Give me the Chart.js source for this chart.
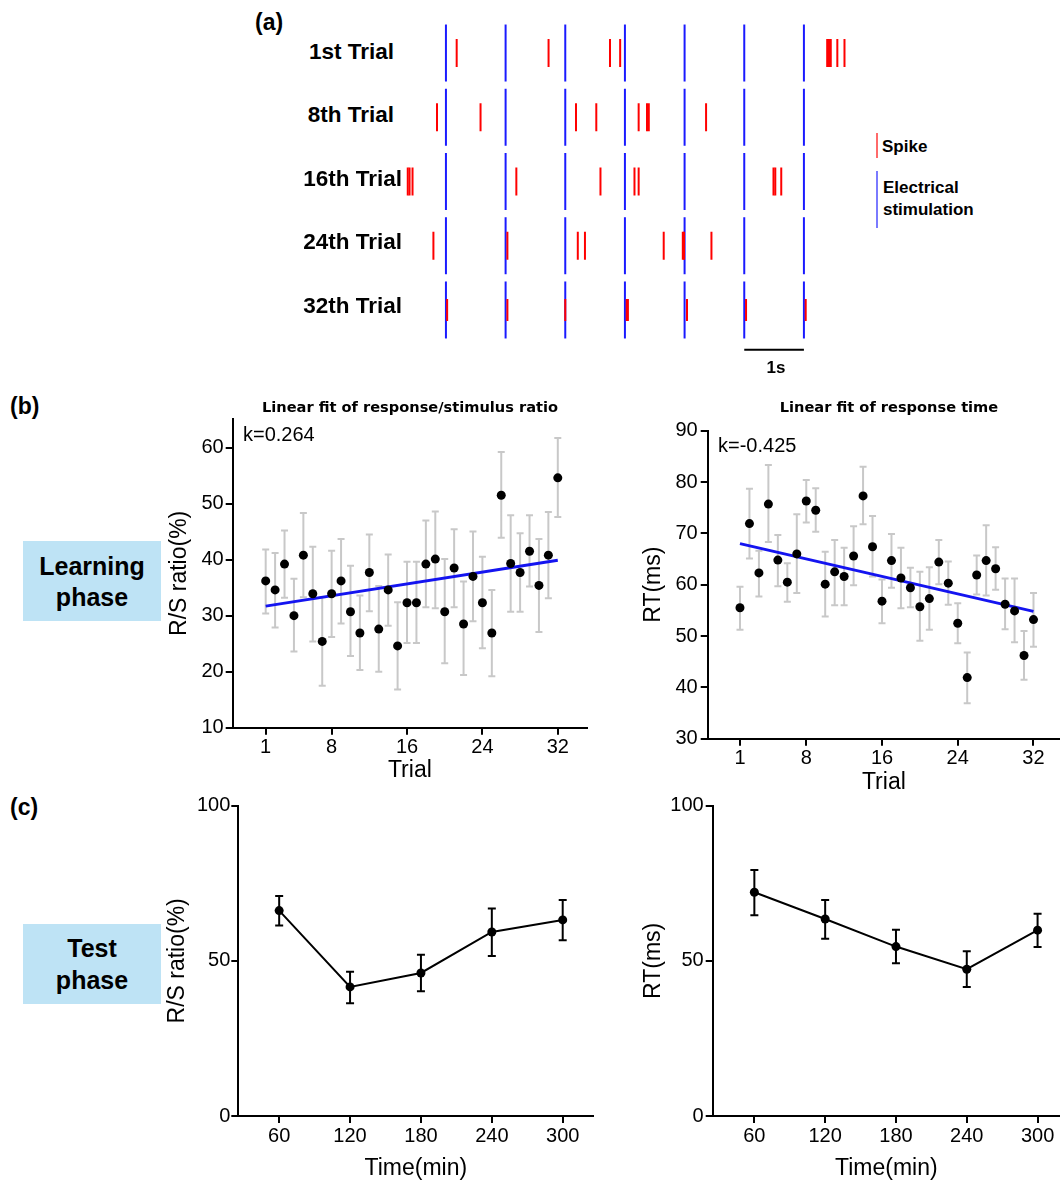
<!DOCTYPE html>
<html>
<head>
<meta charset="utf-8">
<script src="https://cdn.jsdelivr.net/npm/chart.js@4.4.1/dist/chart.umd.min.js"></script>
<style>
  body { margin: 0; background: #fff; width: 1060px; height: 1183px; position: relative; overflow: hidden;
         font-family: Arial, "Liberation Sans", sans-serif; }
  canvas { position: absolute; }
  .t { position: absolute; white-space: nowrap; line-height: 1; color: #000; }
  .box { position: absolute; background: #bee3f5; }
  .mark { position: absolute; width: 2px; }
</style>
</head>
<body>
<div class="box" style="left:23px;top:541px;width:138px;height:80px"></div>
<div class="box" style="left:23px;top:924px;width:138px;height:80px"></div>
<div class="mark" style="left:876px;top:133px;height:25px;background:#ff6a6a"></div>
<div class="mark" style="left:876px;top:171px;height:57px;background:#7a7aff"></div>

<canvas id="raster" width="460" height="360" style="left:400px;top:20px"></canvas>
<canvas id="rsFit" width="440" height="400" style="left:160px;top:400px"></canvas>
<canvas id="rtFit" width="420" height="400" style="left:640px;top:400px"></canvas>
<canvas id="rsTest" width="450" height="393" style="left:150px;top:790px"></canvas>
<canvas id="rtTest" width="420" height="393" style="left:640px;top:790px"></canvas>

<script>
const FONT = 'Arial, "Liberation Sans", sans-serif';

// (a) raster: spike times in seconds, stimulation every second
const trialLabels = ['1st Trial', '8th Trial', '16th Trial', '24th Trial', '32th Trial'];
const stimTimes = [0, 1, 2, 3, 4, 5, 6];
const spikes1st = [0.18, 1.72, 2.75, 2.92, 6.39, 6.42, 6.45, 6.56, 6.68];
const spikes8th = [-0.15, 0.58, 2.18, 2.52, 3.23, 3.37, 3.40, 4.36];
const spikes16th = [-0.64, -0.61, -0.56, 1.18, 2.59, 3.16, 3.23, 5.49, 5.52, 5.62];
const spikes24th = [-0.21, 1.03, 2.21, 2.33, 3.65, 3.97, 3.99, 4.45];
const spikes32th = [0.02, 1.03, 2.00, 3.03, 3.05, 4.04, 5.03, 6.03];
const spikeTrains = [spikes1st, spikes8th, spikes16th, spikes24th, spikes32th];
const scaleBar = [5, 6];

// (b) learning phase
const trials = [1, 2, 3, 4, 5, 6, 7, 8, 9, 10, 11, 12, 13, 14, 15, 16,
                17, 18, 19, 20, 21, 22, 23, 24, 25, 26, 27, 28, 29, 30, 31, 32];
const trialTicks = [1, 8, 16, 24, 32];
const rsMean = [36.2, 34.6, 39.2, 30.0, 40.8, 33.9, 25.4, 33.9, 36.2, 30.7, 26.9, 37.7, 27.6, 34.6, 24.6, 32.3,
                32.3, 39.2, 40.1, 30.7, 38.5, 28.5, 37.0, 32.3, 26.9, 51.5, 39.3, 37.7, 41.5, 35.4, 40.8, 54.6];
const rsLow = [30.4, 27.9, 33.2, 23.6, 33.3, 25.4, 17.5, 26.2, 28.6, 22.8, 20.3, 30.8, 20.0, 28.2, 16.8, 25.1,
               25.1, 31.5, 31.3, 21.5, 31.5, 19.4, 29.0, 24.2, 19.2, 43.9, 30.7, 30.7, 35.2, 27.1, 33.1, 47.6];
const rsHigh = [41.8, 41.2, 45.2, 36.6, 48.3, 42.3, 33.3, 41.6, 43.7, 38.9, 33.6, 44.5, 35.3, 40.9, 32.4, 39.6,
                39.6, 47.0, 48.6, 40.1, 45.4, 36.1, 45.0, 40.5, 34.6, 59.2, 47.9, 44.7, 47.9, 43.7, 48.5, 61.7];
const rsFitEnds = [31.7, 39.9];
const rsTicks = [10, 20, 30, 40, 50, 60];

const rtMean = [55.5, 71.9, 62.3, 75.7, 64.8, 60.5, 66.0, 76.3, 74.5, 60.1, 62.5, 61.6, 65.6, 77.3, 67.4, 56.8,
                64.7, 61.3, 59.4, 55.7, 57.3, 64.4, 60.3, 52.5, 41.9, 61.9, 64.7, 63.1, 56.2, 54.9, 46.2, 53.2];
const rtLow = [51.2, 65.1, 57.7, 68.3, 59.7, 56.7, 58.4, 72.1, 70.3, 53.8, 56.0, 56.0, 59.9, 71.8, 61.6, 52.5,
               59.4, 55.4, 55.6, 49.1, 51.2, 60.1, 56.1, 48.6, 36.9, 58.1, 57.9, 59.0, 51.3, 48.8, 41.5, 47.9];
const rtHigh = [59.6, 78.7, 66.6, 83.3, 69.7, 64.2, 73.7, 80.4, 78.8, 66.4, 68.7, 67.2, 71.4, 83.0, 73.4, 61.0,
                69.9, 67.2, 63.3, 62.5, 63.4, 68.7, 64.5, 56.4, 46.8, 65.7, 71.6, 67.3, 61.2, 61.2, 51.0, 58.4];
const rtFitEnds = [68.0, 54.8];
const rtTicks = [30, 40, 50, 60, 70, 80, 90];

// (c) test phase
const testTimes = [60, 120, 180, 240, 300];
const rsTestMean = [66.2, 41.6, 46.1, 59.3, 63.2];
const rsTestLow = [61.4, 36.3, 40.2, 51.6, 56.6];
const rsTestHigh = [70.9, 46.5, 52.0, 66.9, 69.6];
const rtTestMean = [72.1, 63.5, 54.6, 47.3, 59.9];
const rtTestLow = [64.7, 57.1, 49.2, 41.6, 54.5];
const rtTestHigh = [79.3, 69.6, 60.0, 53.1, 65.2];
const testTicks = [0, 50, 100];

Chart.defaults.font.family = FONT;
Chart.defaults.color = '#000';

// texto fijo (etiquetas de paneles, leyenda, titulos)
function label(text, x, y, size, bold, align, extra) {
  const d = document.createElement('div');
  d.className = 't';
  d.textContent = text;
  d.style.left = x + 'px';
  d.style.top = y + 'px';
  d.style.fontSize = size + 'px';
  d.style.fontWeight = bold ? 'bold' : 'normal';
  const tx = align === 'right' ? '-100%' : align === 'center' ? '-50%' : '0';
  d.style.transform = 'translate(' + tx + ',-50%)';
  if (extra) Object.assign(d.style, extra);
  document.body.appendChild(d);
}

label('(a)', 255, 22, 23, true, 'left');
label('(b)', 10, 406, 23, true, 'left');
label('(c)', 10, 807, 23, true, 'left');
const rowCenters = [52, 115, 179, 242, 306];
const rowRight = [394, 394, 402, 402, 402];
trialLabels.forEach((t, i) => label(t, rowRight[i], rowCenters[i], 22.5, true, 'right'));
label('Spike', 882, 146, 17, true, 'left');
label('Electrical', 883, 187, 17, true, 'left');
label('stimulation', 883, 209, 17, true, 'left');
label('1s', 776, 367, 17, true, 'center');
label('Learning', 92, 566, 25, true, 'center');
label('phase', 92, 597, 25, true, 'center');
label('Test', 92, 948, 25, true, 'center');
label('phase', 92, 980, 25, true, 'center');
const titleFont = { fontFamily: '"DejaVu Sans", Verdana, sans-serif' };
label('Linear fit of response/stimulus ratio', 410, 407, 14.6, true, 'center', titleFont);
label('Linear fit of response time', 889, 407, 14.6, true, 'center', titleFont);
label('k=0.264', 243, 434, 20, false, 'left');
label('k=-0.425', 718, 445, 20, false, 'left');

// (a) raster de espigas
const rasterSets = [];
spikeTrains.forEach((train, r) => {
  rasterSets.push({
    data: train.map(t => ({ x: t, y: r + 1 })),
    pointStyle: 'line', pointRotation: 90, pointRadius: r === 4 ? 11 : 14,
    pointBorderColor: '#ff0000', pointBorderWidth: 2, clip: false
  });
});
rasterSets.push({
  data: trialLabels.flatMap((_, r) => stimTimes.map(t => ({ x: t, y: r + 1 }))),
  pointStyle: 'line', pointRotation: 90, pointRadius: 28.5,
  pointBorderColor: '#1a1aff', pointBorderWidth: 2, clip: false
});
rasterSets.push({
  data: scaleBar.map(t => ({ x: t, y: 5.62 })),
  showLine: true, borderColor: '#000', borderWidth: 2, pointRadius: 0
});

new Chart(document.getElementById('raster'), {
  type: 'scatter',
  data: { datasets: rasterSets },
  options: {
    responsive: false, animation: false, events: [],
    layout: { padding: 0, autoPadding: false },
    plugins: { legend: { display: false }, tooltip: { enabled: false } },
    scales: {
      x: { type: 'linear', display: false, min: -0.77, max: 6.94 },
      y: { type: 'linear', display: false, min: 0.486, max: 6.09, reverse: true }
    }
  }
});

// barras de error como segmentos separados por null
function errorBars(xs, low, high, color, cap) {
  const pts = [];
  xs.forEach((x, i) => { pts.push({ x: x, y: low[i] }, { x: x, y: high[i] }, { x: x, y: null }); });
  return {
    data: pts, showLine: true, spanGaps: false, borderColor: color, borderWidth: 2,
    pointStyle: 'line', pointRotation: 0, pointRadius: cap,
    pointBorderColor: color, pointBorderWidth: 2
  };
}

function axisOptions(o) {
  return {
    responsive: false, animation: false, events: [],
    layout: { padding: { top: o.padTop, right: o.padRight, left: 0, bottom: 0 }, autoPadding: false },
    plugins: { legend: { display: false }, tooltip: { enabled: false } },
    scales: {
      x: {
        type: 'linear', min: o.xMin, max: o.xMax,
        afterBuildTicks: s => { s.ticks = o.xTicks.map(v => ({ value: v })); },
        afterFit: s => { s.height = o.xH; },
        grid: { drawOnChartArea: false, tickLength: 7, color: '#000', lineWidth: 2 },
        border: { color: '#000', width: 2 },
        ticks: { color: '#000', font: { size: 20 }, padding: 1, maxRotation: 0, autoSkip: false },
        title: { display: true, text: o.xTitle, color: '#000', font: { size: 23 },
                 padding: { top: 0, bottom: o.xTitlePad } }
      },
      y: {
        type: 'linear', min: o.yMin, max: o.yMax,
        afterBuildTicks: s => { s.ticks = o.yTicks.map(v => ({ value: v })); },
        afterFit: s => { s.width = o.yW; },
        grid: { drawOnChartArea: false, tickLength: 7, color: '#000', lineWidth: 2 },
        border: { color: '#000', width: 2 },
        ticks: { color: '#000', font: { size: 20 }, padding: o.yTickPad, autoSkip: false },
        title: { display: true, text: o.yTitle, color: '#000', font: { size: 23 },
                 padding: { top: o.yTitlePad, bottom: 0 } }
      }
    }
  };
}

function fitChart(id, mean, low, high, fitEnds, axes) {
  new Chart(document.getElementById(id), {
    type: 'scatter',
    data: { datasets: [
      { data: trials.map((t, i) => ({ x: t, y: mean[i] })), pointRadius: 4.5,
        pointBackgroundColor: '#000', pointBorderColor: '#000', pointBorderWidth: 0 },
      { data: [{ x: trials[0], y: fitEnds[0] }, { x: trials[trials.length - 1], y: fitEnds[1] }],
        showLine: true, borderColor: '#1414f0', borderWidth: 3, pointRadius: 0 },
      errorBars(trials, low, high, '#c8c8c8', 3.5)
    ]},
    options: axisOptions(axes)
  });
}

function testChart(id, mean, low, high, axes) {
  new Chart(document.getElementById(id), {
    type: 'scatter',
    data: { datasets: [
      { data: testTimes.map((t, i) => ({ x: t, y: mean[i] })), showLine: true,
        borderColor: '#000', borderWidth: 2, pointRadius: 4.5,
        pointBackgroundColor: '#000', pointBorderColor: '#000', pointBorderWidth: 0 },
      errorBars(testTimes, low, high, '#000', 4)
    ]},
    options: axisOptions(axes)
  });
}

fitChart('rsFit', rsMean, rsLow, rsHigh, rsFitEnds, {
  padTop: 19, padRight: 13, xMin: -2.5, xMax: 35.1, xTicks: trialTicks, xH: 72.3,
  xTitle: 'Trial', xTitlePad: 16, yMin: 10, yMax: 65.1, yTicks: rsTicks, yW: 72.7,
  yTickPad: 2, yTitle: 'R/S ratio(%)', yTitlePad: 6
});
fitChart('rtFit', rtMean, rtLow, rtHigh, rtFitEnds, {
  padTop: 30.7, padRight: 0, xMin: -2.41, xMax: 34.8, xTicks: trialTicks, xH: 61.3,
  xTitle: 'Trial', xTitlePad: 4, yMin: 30, yMax: 90, yTicks: rtTicks, yW: 67.7,
  yTickPad: 3, yTitle: 'RT(ms)', yTitlePad: 0
});
testChart('rsTest', rsTestMean, rsTestLow, rsTestHigh, {
  padTop: 15.7, padRight: 6.7, xMin: 25.4, xMax: 325.9, xTicks: testTimes, xH: 67,
  xTitle: 'Time(min)', xTitlePad: 1, yMin: 0, yMax: 100, yTicks: testTicks, yW: 88.3,
  yTickPad: 1, yTitle: 'R/S ratio(%)', yTitlePad: 14
});
testChart('rtTest', rtTestMean, rtTestLow, rtTestHigh, {
  padTop: 15.7, padRight: 0, xMin: 24.7, xMax: 319, xTicks: testTimes, xH: 67,
  xTitle: 'Time(min)', xTitlePad: 1, yMin: 0, yMax: 100, yTicks: testTicks, yW: 72.7,
  yTickPad: 2, yTitle: 'RT(ms)', yTitlePad: 0
});
</script>
</body>
</html>
